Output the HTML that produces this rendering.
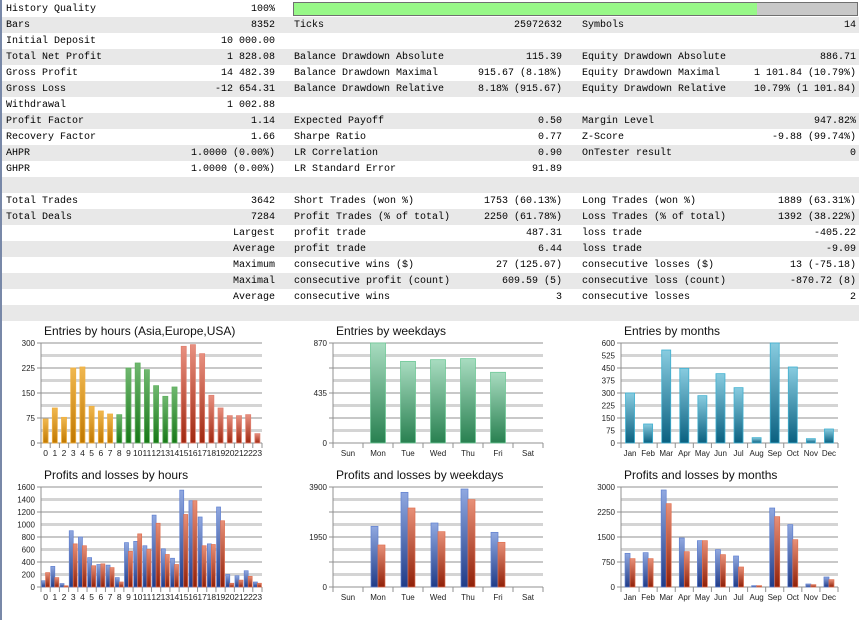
<!DOCTYPE html>
<html><head><meta charset="utf-8"><style>
body{margin:0;width:859px;height:620px;overflow:hidden;background:#fff;position:relative;font-family:"Liberation Mono",monospace;font-size:10px;color:#000}
#lb{position:absolute;left:0;top:0;width:2px;height:620px;background:#7888a8}
.r{position:absolute;left:2px;width:857px;height:16px;line-height:18px}
.g{background:#e8e8e8}
.t{position:absolute;white-space:pre}
.v{position:absolute;white-space:pre;text-align:right}
svg{position:absolute;left:0;top:0}
</style></head><body>
<div id="lb"></div>
<div id="rows"></div>
<div style="position:absolute;left:293px;top:2px;width:563px;height:12px;border:1px solid #707070;background:#c8c8c8"><div style="width:463px;height:12px;background:#98f888"></div></div>
<svg id="ch" width="859" height="620" font-family="Liberation Sans, sans-serif"></svg>
<script>
var R=[
["History Quality","100%","","","",""],
["Bars","8352","Ticks","25972632","Symbols","14"],
["Initial Deposit","10 000.00","","","",""],
["Total Net Profit","1 828.08","Balance Drawdown Absolute","115.39","Equity Drawdown Absolute","886.71"],
["Gross Profit","14 482.39","Balance Drawdown Maximal","915.67 (8.18%)","Equity Drawdown Maximal","1 101.84 (10.79%)"],
["Gross Loss","-12 654.31","Balance Drawdown Relative","8.18% (915.67)","Equity Drawdown Relative","10.79% (1 101.84)"],
["Withdrawal","1 002.88","","","",""],
["Profit Factor","1.14","Expected Payoff","0.50","Margin Level","947.82%"],
["Recovery Factor","1.66","Sharpe Ratio","0.77","Z-Score","-9.88 (99.74%)"],
["AHPR","1.0000 (0.00%)","LR Correlation","0.90","OnTester result","0"],
["GHPR","1.0000 (0.00%)","LR Standard Error","91.89","",""],
["","","","","",""],
["Total Trades","3642","Short Trades (won %)","1753 (60.13%)","Long Trades (won %)","1889 (63.31%)"],
["Total Deals","7284","Profit Trades (% of total)","2250 (61.78%)","Loss Trades (% of total)","1392 (38.22%)"],
["","Largest","profit trade","487.31","loss trade","-405.22"],
["","Average","profit trade","6.44","loss trade","-9.09"],
["","Maximum","consecutive wins ($)","27 (125.07)","consecutive losses ($)","13 (-75.18)"],
["","Maximal","consecutive profit (count)","609.59 (5)","consecutive loss (count)","-870.72 (8)"],
["","Average","consecutive wins","3","consecutive losses","2"],
["","","","","",""]];
var h="";
R.forEach(function(r,i){
h+='<div class="r'+(i%2?' g':'')+'" style="top:'+(16*i+1)+'px">'+
'<span class="t" style="left:4px">'+r[0]+'</span>'+
'<span class="v" style="right:584px">'+r[1]+'</span>'+
'<span class="t" style="left:292px">'+r[2]+'</span>'+
'<span class="v" style="right:297px">'+r[3]+'</span>'+
'<span class="t" style="left:580px">'+r[4]+'</span>'+
'<span class="v" style="right:3px">'+r[5]+'</span></div>';});
document.getElementById('rows').innerHTML=h;

var s='<defs>';
function gr(id,a,b){s+='<linearGradient id="'+id+'" x1="0" y1="0" x2="0" y2="1"><stop offset="0" stop-color="'+a+'"/><stop offset="1" stop-color="'+b+'"/></linearGradient>';}
gr('or','#f0b850','#c07800');gr('gn','#70b870','#187818');gr('rd','#e89080','#a02810');
gr('bl','#90a8e0','#203c88');gr('rr','#e89078','#902008');gr('wg','#a8dcc0','#288050');gr('tl','#88cce0','#0a6080');
s+='</defs>';
function chart(o){
 var x0=o.x0,x1=o.x1,top=o.top,bot=o.bot,n=o.labels.length,sw=(x1-x0)/n;
 s+='<text x="'+(x0+3)+'" y="'+(top-8)+'" font-size="12" fill="#111">'+o.title+'</text>';
 for(var k=0;k<=8;k++){var y=bot-(bot-top)*k/8;
  if(k%2) s+='<rect x="'+x0+'" y="'+(y-1.5)+'" width="'+(x1-x0)+'" height="3" fill="#d4d4d4"/>';
  else s+='<line x1="'+(x0-4)+'" x2="'+x1+'" y1="'+y+'" y2="'+y+'" stroke="#909090"/>';}
 o.yl.forEach(function(l,k){var y=bot-(bot-top)*k/(o.yl.length-1);
  s+='<text x="'+(x0-6)+'" y="'+(y+3)+'" font-size="8" text-anchor="end" fill="#222">'+l+'</text>';});
 s+='<line x1="'+x0+'" x2="'+x0+'" y1="'+top+'" y2="'+(bot+5)+'" stroke="#909090"/>';
 for(var i=0;i<n;i++){var cx=x0+sw*(i+0.5);
  s+='<line x1="'+(x0+sw*(i+1))+'" x2="'+(x0+sw*(i+1))+'" y1="'+bot+'" y2="'+(bot+5)+'" stroke="#909090"/>';
  s+='<text x="'+cx+'" y="'+(bot+13)+'" font-size="'+(o.lf||9)+'" text-anchor="middle" fill="#222">'+o.labels[i]+'</text>';
  var sc=(bot-top)/o.max;
  if(o.d2){var w=o.bw;[[o.d[i],'bl','#6080d0',-w],[o.d2[i],'rr','#e07050',0]].forEach(function(b){var hh=b[0]*sc;if(hh>0)
    s+='<rect x="'+(cx+b[3])+'" y="'+(bot-hh)+'" width="'+w+'" height="'+hh+'" fill="url(#'+b[1]+')" stroke="'+b[2]+'" stroke-width="0.7"/>';});}
  else{var hh=o.d[i]*sc,c=o.col(i);if(hh>0)
    s+='<rect x="'+(cx-o.bw/2)+'" y="'+(bot-hh)+'" width="'+o.bw+'" height="'+hh+'" fill="url(#'+c[0]+')" stroke="'+c[1]+'" stroke-width="0.8"/>';}
 }}
var H=[];for(var i=0;i<24;i++)H.push(i);
chart({title:"Entries by hours (Asia,Europe,USA)",x0:41,x1:262,top:343,bot:443,labels:H,max:300,yl:[0,75,150,225,300],bw:5,lf:8.5,
 d:[72,105,77,225,228,110,96,87,85,225,240,220,172,140,168,290,295,268,143,105,82,82,85,28],
 col:function(i){return i<8?['or','#f0b040']:i<15?['gn','#60b060']:['rd','#e08070'];}});
chart({title:"Profits and losses by hours",x0:41,x1:262,top:487,bot:587,labels:H,max:1600,yl:[0,200,400,600,800,1000,1200,1400,1600],bw:4,lf:8.5,
 d:[100,330,55,900,800,470,360,350,150,710,730,660,1150,610,460,1550,1380,1120,690,1280,200,180,260,80],
 d2:[230,150,20,690,660,340,370,310,80,570,850,600,1020,520,360,1160,1380,660,680,1060,60,110,170,60]});
var W=["Sun","Mon","Tue","Wed","Thu","Fri","Sat"];
chart({title:"Entries by weekdays",x0:333,x1:543,top:343,bot:443,labels:W,max:870,yl:[0,435,870],bw:15,lf:8,
 d:[0,870,710,725,734,615,0],col:function(){return ['wg','#70c898'];}});
chart({title:"Profits and losses by weekdays",x0:333,x1:543,top:487,bot:587,labels:W,max:3900,yl:[0,1950,3900],bw:7,lf:8,
 d:[0,2366,3692,2496,3822,2132,0],d2:[0,1638,3081,2158,3406,1742,0]});
var M=["Jan","Feb","Mar","Apr","May","Jun","Jul","Aug","Sep","Oct","Nov","Dec"];
chart({title:"Entries by months",x0:621,x1:838,top:343,bot:443,labels:M,max:600,yl:[0,75,150,225,300,375,450,525,600],bw:9,lf:8,
 d:[300,114,558,448,284,416,332,32,600,456,26,84],col:function(){return ['tl','#40b0d0'];}});
chart({title:"Profits and losses by months",x0:621,x1:838,top:487,bot:587,labels:M,max:3000,yl:[0,750,1500,2250,3000],bw:5,lf:8,
 d:[1010,1030,2910,1470,1390,1120,930,40,2370,1870,90,300],d2:[850,850,2500,1060,1390,970,600,40,2110,1420,70,220]});
document.getElementById('ch').innerHTML=s;
</script>
</body></html>
